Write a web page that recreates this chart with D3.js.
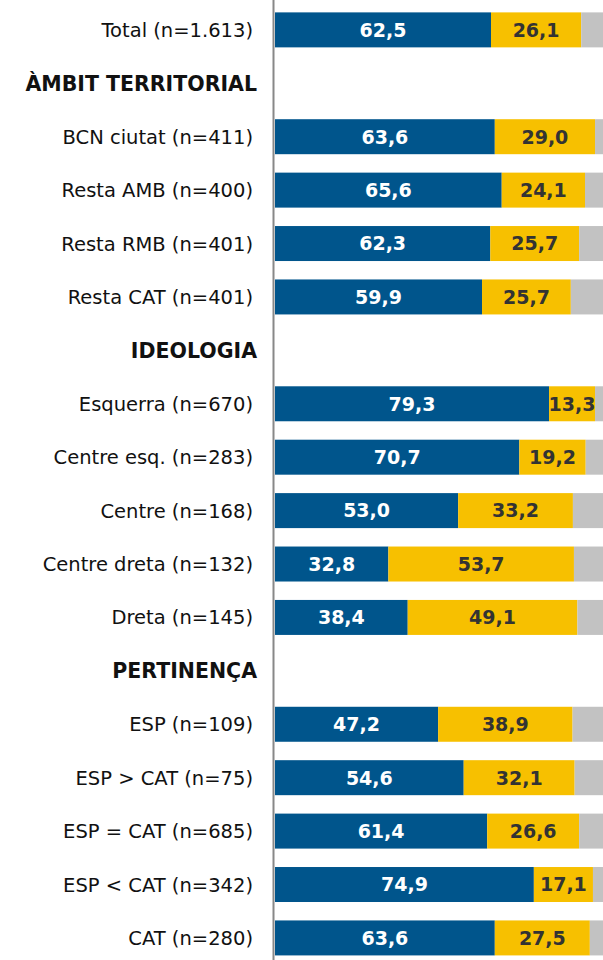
<!DOCTYPE html>
<html>
<head>
<meta charset="utf-8">
<script src="https://cdn.jsdelivr.net/npm/d3@7"></script>
<style>
  body { margin: 0; background: #fff; }
  svg { display: block; font-family: "DejaVu Sans", sans-serif; }
</style>
</head>
<body>
<div id="chart"></div>
<script>
// Rows (headers have no values)
const rows = [
    "Total (n=1.613)",
    "ÀMBIT TERRITORIAL",
    "BCN ciutat (n=411)",
    "Resta AMB (n=400)",
    "Resta RMB (n=401)",
    "Resta CAT (n=401)",
    "IDEOLOGIA",
    "Esquerra (n=670)",
    "Centre esq. (n=283)",
    "Centre (n=168)",
    "Centre dreta (n=132)",
    "Dreta (n=145)",
    "PERTINENÇA",
    "ESP (n=109)",
    "ESP > CAT (n=75)",
    "ESP = CAT (n=685)",
    "ESP < CAT (n=342)",
    "CAT (n=280)"
];
const headers = ["ÀMBIT TERRITORIAL", "IDEOLOGIA", "PERTINENÇA"];

const blueValues = [62.5, null, 63.6, 65.6, 62.3, 59.9, null, 79.3, 70.7, 53.0, 32.8, 38.4, null, 47.2, 54.6, 61.4, 74.9, 63.6];
const yellowValues = [26.1, null, 29.0, 24.1, 25.7, 25.7, null, 13.3, 19.2, 33.2, 53.7, 49.1, null, 38.9, 32.1, 26.6, 17.1, 27.5];
const greyValues = [11.4, null, 7.4, 10.3, 12.0, 14.4, null, 7.4, 10.1, 13.8, 13.5, 12.5, null, 13.9, 13.3, 12.0, 8.0, 8.9];

const width = 603, height = 960;
const colors = ["#00558c", "#f7c000", "#c2c2c2"];

const svg = d3.select("#chart").append("svg")
    .attr("width", width)
    .attr("height", height);

const y = d3.scaleBand()
    .domain(rows)
    .range([3.3, 964.5])
    .paddingInner(0.345)
    .paddingOuter(0.17);

const x = d3.scaleLinear()
    .domain([0, 100])
    .range([275, 620.6]);

const fmt = v => v.toFixed(1).replace(".", ",");

// stacked segments
const data = rows.map((r, i) => ({ row: r, vals: [blueValues[i], yellowValues[i], greyValues[i]] }))
    .filter(d => d.vals[0] !== null);

data.forEach(d => {
    let start = 0;
    d.vals.forEach((v, k) => {
        svg.append("rect")
            .attr("x", x(start))
            .attr("y", y(d.row))
            .attr("width", x(start + v) - x(start))
            .attr("height", y.bandwidth())
            .attr("fill", colors[k]);
        if (k < 2) {
            svg.append("text")
                .attr("x", (x(start) + x(start + v)) / 2)
                .attr("y", y(d.row) + y.bandwidth() / 2)
                .attr("dy", "0.36em")
                .attr("text-anchor", "middle")
                .attr("font-size", 19)
                .attr("font-weight", "bold")
                .attr("fill", k === 0 ? "#fff" : "#333")
                .text(fmt(v));
        }
        start += v;
    });
});

// row labels
svg.selectAll(".lbl")
    .data(rows)
    .enter()
    .append("text")
    .attr("class", "lbl")
    .attr("x", d => headers.includes(d) ? 257 : 253)
    .attr("y", d => y(d) + y.bandwidth() / 2)
    .attr("dy", "0.36em")
    .attr("text-anchor", "end")
    .attr("font-size", d => headers.includes(d) ? 20.5 : 19.5)
    .attr("font-weight", d => headers.includes(d) ? "bold" : "normal")
    .attr("fill", "#111")
    .text(d => d);

// axis line
svg.append("line")
    .attr("x1", 273.5).attr("x2", 273.5)
    .attr("y1", 0).attr("y2", height)
    .attr("stroke", "#888")
    .attr("stroke-width", 2);
</script>
</body>
</html>
